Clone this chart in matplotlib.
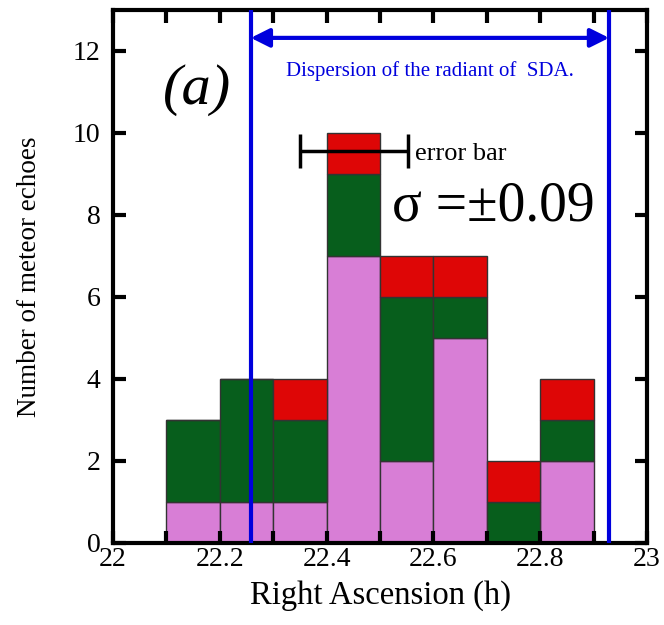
import matplotlib
matplotlib.use("Agg")
import matplotlib.pyplot as plt
from matplotlib.ticker import MultipleLocator

plt.rcParams['font.family'] = ['Liberation Serif', 'DejaVu Serif']

bin_left = [22.1, 22.2, 22.3, 22.4, 22.5, 22.6, 22.7, 22.8]
pink = [1, 1, 1, 7, 2, 5, 0, 2]
green = [2, 3, 2, 2, 4, 1, 1, 1]
red = [0, 0, 1, 1, 1, 1, 1, 1]
bin_width = 0.1
disp_lo, disp_hi = 22.258, 22.929
err_center, err_half = 22.451, 0.101
xticks = [22, 22.2, 22.4, 22.6, 22.8, 23]
yticks = [0, 2, 4, 6, 8, 10, 12]

fig = plt.figure(figsize=(6.64, 6.25), dpi=100)
ax = fig.add_axes([113/664, 82/625, 534/664, 533/625])

base2 = [p + g for p, g in zip(pink, green)]
kw = dict(width=bin_width, align='edge', edgecolor='#333333', linewidth=1.0)
ax.bar(bin_left, pink, color='#D87ED6', **kw)
ax.bar(bin_left, green, bottom=pink, color='#075E1C', **kw)
ax.bar(bin_left, red, bottom=base2, color='#DE0606', **kw)

for xv in (disp_lo, disp_hi):
    ax.axvline(xv, color='#0000DD', lw=3, zorder=5)
ax.annotate('', xy=(disp_lo, 12.32), xytext=(disp_hi, 12.32),
            arrowprops=dict(arrowstyle='<|-|>', color='#0000DD', lw=3,
                            mutation_scale=28, shrinkA=0, shrinkB=0), zorder=6)
ax.text(22.594, 11.5, 'Dispersion of the radiant of  SDA.', color='#0000DD',
        fontsize=15, ha='center', va='center')
ax.text(22.157, 11.05, '(a)', fontsize=42, style='italic', ha='center', va='center')

ax.errorbar([err_center], [9.56], xerr=[err_half], color='black', lw=2.5,
            capsize=12.5, capthick=2.5, fmt='none', zorder=7)
ax.text(22.566, 9.5, 'error bar', fontsize=19, ha='left', va='center')
ax.text(22.522, 8.2, 'σ =±0.09', fontsize=40, ha='left', va='center')

ax.set_xlim(22, 23)
ax.set_ylim(0, 13)
ax.set_xticks(xticks)
ax.set_xticklabels([f'{v:g}' for v in xticks])
ax.set_yticks(yticks)
ax.xaxis.set_minor_locator(MultipleLocator(0.1))
ax.tick_params(which='both', direction='in', top=True, right=True, labelsize=20,
               width=3, length=9)
ax.tick_params(axis='x', pad=3)
ax.tick_params(axis='y', pad=9)
for s in ax.spines.values():
    s.set_linewidth(3)
ax.set_xlabel('Right Ascension (h)', fontsize=23.5, labelpad=6)
ax.set_ylabel('Number of meteor echoes', fontsize=19.5, labelpad=22)

fig.savefig('out.png', dpi=100)
